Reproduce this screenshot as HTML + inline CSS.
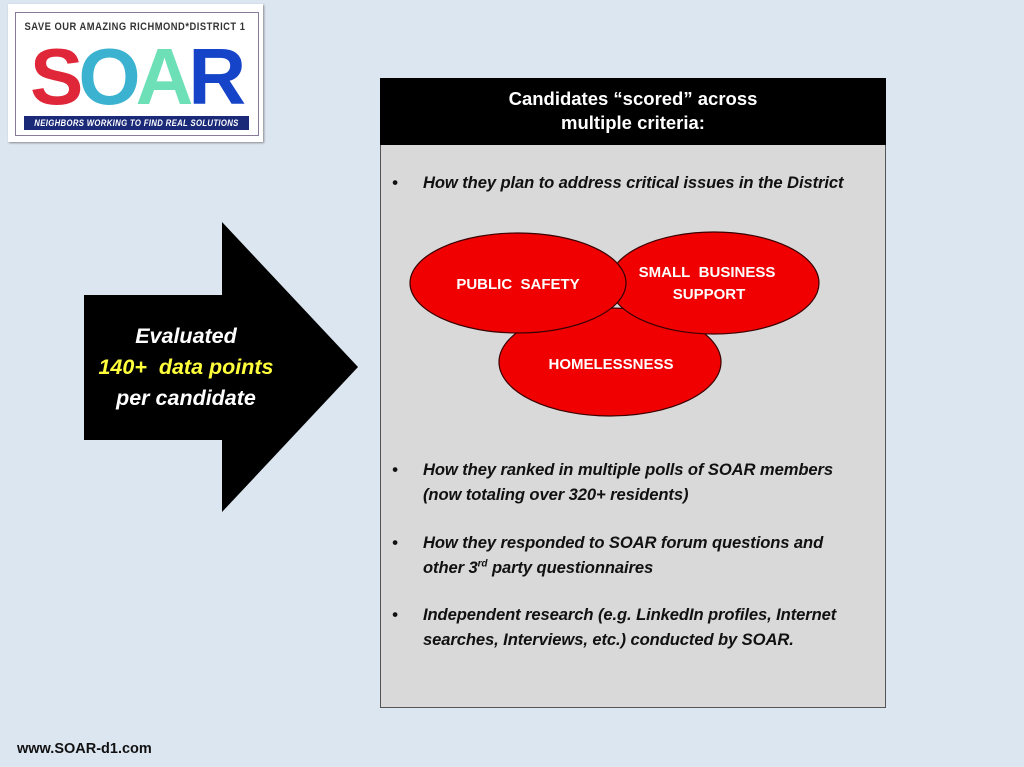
<!DOCTYPE html>
<html><head><style>
body{margin:0;width:1024px;height:767px;background:#dce6f1;position:relative;overflow:hidden;font-family:"Liberation Sans",sans-serif}
.box{position:absolute;left:380px;top:78px;width:506px;height:630px;background:#d9d9d9;border:1px solid #555;box-sizing:border-box}
.hdr{position:absolute;left:380px;top:78px;width:506px;height:67px;background:#000;color:#fff;font-weight:bold;font-size:18.5px;text-align:center;line-height:24px;padding-top:9px;box-sizing:border-box}
.b{position:absolute;left:392px;font-style:italic;font-weight:bold;font-size:16.6px;color:#111;line-height:25px;letter-spacing:-0.1px;white-space:nowrap}
.b span.d{position:absolute;left:0}
.b div{margin-left:31px}
</style></head><body>
<div style="position:absolute;left:8px;top:4px;width:255px;height:138px;background:#fff;box-shadow:1px 1px 2px #888"></div>
<div style="position:absolute;left:15px;top:12px;width:242px;height:122px;border:1px solid #8a7a9a"></div>
<div style="position:absolute;left:0;top:21px;width:270px;text-align:center;font-size:11px;font-weight:bold;color:#333;letter-spacing:0.6px;transform:scaleX(0.85)">SAVE OUR AMAZING RICHMOND*DISTRICT 1</div>
<div style="position:absolute;left:30px;top:37px;font-size:80px;font-weight:900;line-height:80px;letter-spacing:-5px;white-space:nowrap"><span style="color:#e0273a">S</span><span style="color:#3bb3d0">O</span><span style="color:#6ee0b8">A</span><span style="color:#1544c8">R</span></div>
<div style="position:absolute;left:24px;top:116px;width:225px;height:14px;background:#1b2a78;overflow:hidden"></div>
<div style="position:absolute;left:0;top:116px;width:273px;color:#fff;font-size:9px;font-weight:bold;font-style:italic;text-align:center;line-height:14px;letter-spacing:0.4px;white-space:nowrap;transform:scaleX(0.86)">NEIGHBORS WORKING TO FIND REAL SOLUTIONS</div>

<svg style="position:absolute;left:0;top:0" width="1024" height="767">
<polygon points="84,295 222,295 222,222 358,367 222,512 222,440 84,440" fill="#000"/>
</svg>
<div style="position:absolute;left:84px;top:321px;width:204px;text-align:center;color:#fff;font-style:italic;font-weight:bold;font-size:21.5px;line-height:31px;white-space:nowrap">Evaluated<br><span style="color:#ffff3c">140+&nbsp; data points</span><br>per candidate</div>

<div class="box"></div>
<div class="hdr">Candidates “scored” across<br>multiple criteria:</div>
<div class="b" style="top:170px"><span class="d">•</span><div>How they plan to address critical issues in the District</div></div>

<svg style="position:absolute;left:0;top:0" width="1024" height="767">
<g stroke="#3a0000" stroke-width="1.2" fill="#f00000">
<ellipse cx="610" cy="362" rx="111" ry="54"/>
<ellipse cx="714" cy="283" rx="105" ry="51"/>
<ellipse cx="518" cy="283" rx="108" ry="50"/>
</g>
<g fill="#fff" font-family="Liberation Sans,sans-serif" font-weight="bold" font-size="15" text-anchor="middle">
<text x="518" y="289">PUBLIC&#160; SAFETY</text>
<text x="707" y="277">SMALL&#160; BUSINESS</text>
<text x="709" y="299">SUPPORT</text>
<text x="611" y="369">HOMELESSNESS</text>
</g>
</svg>

<div class="b" style="top:457px"><span class="d">•</span><div>How they ranked in multiple polls of SOAR members<br>(now totaling over 320+ residents)</div></div>
<div class="b" style="top:530px"><span class="d">•</span><div>How they responded to SOAR forum questions and<br>other 3<sup style="font-size:10px;line-height:0">rd</sup> party questionnaires</div></div>
<div class="b" style="top:602px"><span class="d">•</span><div>Independent research (e.g. LinkedIn profiles, Internet<br>searches, Interviews, etc.) conducted by SOAR.</div></div>

<div style="position:absolute;left:17px;top:741px;font-size:14.5px;font-weight:bold;color:#111">www.SOAR-d1.com</div>
</body></html>
